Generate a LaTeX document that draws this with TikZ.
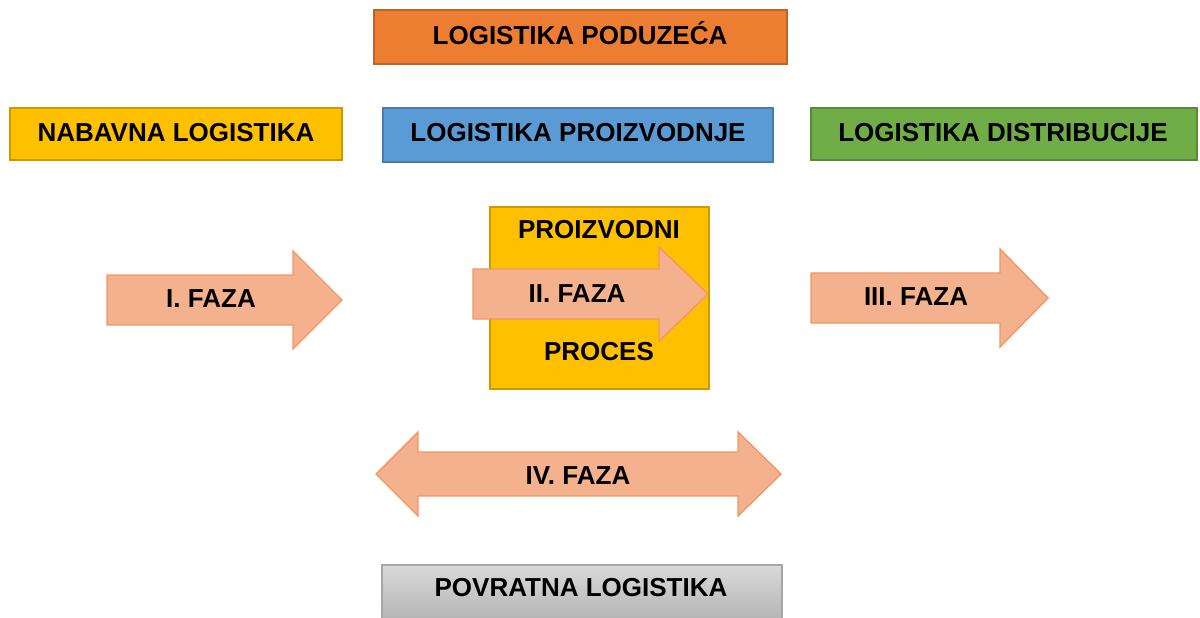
\documentclass[tikz,border=0pt]{standalone}
\usepackage{fontspec}
\setmainfont{Liberation Sans}
\definecolor{cOrange}{RGB}{237,125,49}
\definecolor{cGold}{RGB}{255,192,0}
\definecolor{cBlue}{RGB}{91,155,213}
\definecolor{cGreen}{RGB}{112,173,71}
\definecolor{cGrey}{RGB}{208,208,208}
\definecolor{cArrow}{RGB}{244,177,142}
\definecolor{cArrowLine}{RGB}{242,150,100}
\tikzset{
  lbox/.style={draw=#1!80!black,fill=#1,line width=0.6pt},
  arrowshape/.style={draw=cArrowLine,fill=cArrow,line width=0.8pt,line join=miter},
  lbl/.style={font=\bfseries\fontsize{14.8}{17}\selectfont,text=black,inner sep=0pt}
}
\begin{document}
\begin{tikzpicture}[x=0.02cm,y=-0.02cm]
\useasboundingbox (0,0) rectangle (1200,618);

% gornji red
\draw[lbox=cOrange] (374,10) rectangle (787,64);
\node[lbl] (tPoduzeca) at (580,33) {LOGISTIKA PODUZEĆA};

\draw[lbox=cGold] (10,108) rectangle (342,160);
\node[lbl] (tNabavna) at (176,133) {NABAVNA LOGISTIKA};

\draw[lbox=cBlue] (383,108) rectangle (773,162);
\node[lbl] (tProizvodnja) at (578,133) {LOGISTIKA PROIZVODNJE};

\draw[lbox=cGreen] (811,108) rectangle (1197,160);
\node[lbl] (tDistribucija) at (1003,133) {LOGISTIKA DISTRIBUCIJE};

% proizvodni proces
\draw[lbox=cGold] (490,207) rectangle (709,389);
\node[lbl] (tProizvodni) at (599,230) {PROIZVODNI};
\node[lbl] (tProces) at (599,352) {PROCES};

% faze
\draw[arrowshape] (107,275) -- (293,275) -- (293,251) -- (342,300)
  -- (293,349) -- (293,325) -- (107,325) -- cycle;
\node[lbl] (tFazaI) at (211,299) {I. FAZA};

\draw[arrowshape] (473,269) -- (659,269) -- (659,247) -- (708,294)
  -- (659,341) -- (659,319) -- (473,319) -- cycle;
\node[lbl] (tFazaII) at (577,294) {II. FAZA};

\draw[arrowshape] (811,273) -- (1000,273) -- (1000,249) -- (1048,298)
  -- (1000,347) -- (1000,323) -- (811,323) -- cycle;
\node[lbl] (tFazaIII) at (916,297) {III. FAZA};

\draw[arrowshape] (376,474) -- (418,432) -- (418,452) -- (738,452) -- (738,432)
  -- (781,474) -- (738,516) -- (738,496) -- (418,496) -- (418,516) -- cycle;
\node[lbl] (tFazaIV) at (578,476) {IV. FAZA};

% povratna
\shade[top color=cGrey!80!white,bottom color=cGrey!85!black] (382,565) rectangle (782,625);
\draw[draw=gray!70,line width=0.6pt] (382,625) -- (382,565) -- (782,565) -- (782,625);
\node[lbl] (tPovratna) at (581,588) {POVRATNA LOGISTIKA};
\end{tikzpicture}
\end{document}
